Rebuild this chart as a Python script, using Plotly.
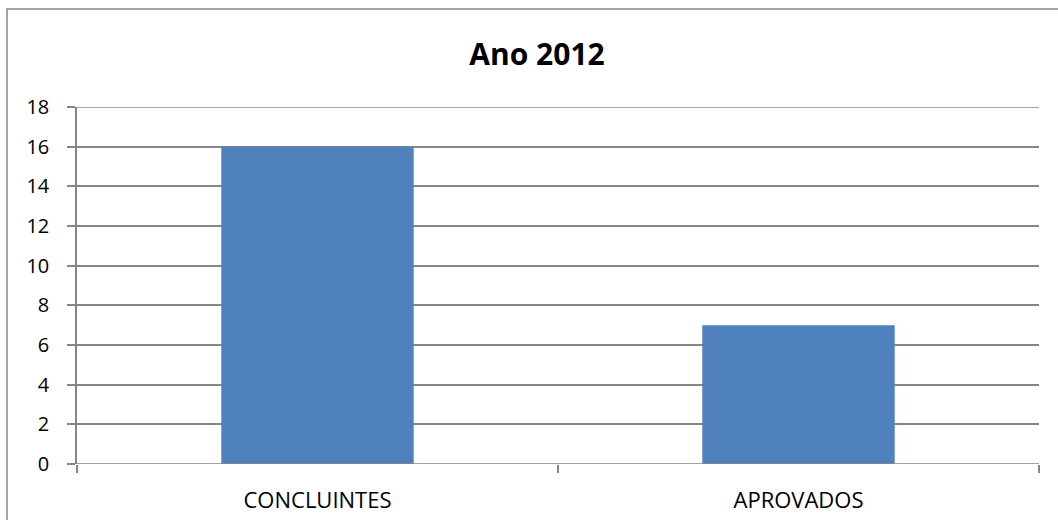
import plotly.graph_objects as go

categories = ["CONCLUINTES", "APROVADOS"]
values = [16, 7]
y_ticks = [0, 2, 4, 6, 8, 10, 12, 14, 16, 18]
title_text = "Ano 2012"

W, H = 1058, 520
L, R, T, B = 77, 1039, 107, 464
pw, ph = R - L, B - T

grid = "#868686"
fig = go.Figure(go.Bar(x=categories, y=values, marker_color="#4F81BD",
                       marker_line_width=0, width=0.4))

fig.update_layout(
    width=W, height=H,
    margin=dict(l=L, r=W - R, t=T, b=H - B, pad=0, autoexpand=False),
    paper_bgcolor="white", plot_bgcolor="white",
    font=dict(family="Open Sans, Liberation Sans, sans-serif", size=20, color="black"),
    title=dict(text="<b>" + title_text + "</b>", x=537 / W, xref="container", xanchor="center",
               y=1 - 54 / H, yref="container", yanchor="middle",
               font=dict(size=30, family="Open Sans, sans-serif", color="black")),
    showlegend=False, bargap=0.6,
    shapes=[dict(type="rect", xref="paper", yref="paper",
                 x0=(7 - L) / pw, x1=(1075 - L) / pw,
                 y0=(B - 535) / ph, y1=(B - 9) / ph,
                 line=dict(color=grid, width=1.5), layer="below"),
            dict(type="line", xref="paper", yref="y", x0=0, x1=1, y0=y_ticks[-1], y1=y_ticks[-1],
                 line=dict(color=grid, width=1.5)),
            dict(type="line", xref="paper", yref="y", x0=0, x1=1, y0=y_ticks[0], y1=y_ticks[0],
                 line=dict(color=grid, width=1.5))],
)
fig.update_yaxes(range=[0, 18], tickvals=y_ticks, showgrid=True, gridcolor=grid, gridwidth=1.5,
                 showline=True, linecolor=grid, linewidth=1.5, ticks="outside", ticklen=8,
                 tickcolor=grid, tickwidth=1.5, ticklabelstandoff=14, zeroline=False, fixedrange=True,
                 tickfont=dict(size=20), automargin=False)
fig.update_xaxes(showgrid=False, showline=False, ticks="outside", tickson="boundaries", ticklen=8,
                 tickcolor=grid, tickwidth=1.5, ticklabelstandoff=21, fixedrange=True,
                 tickfont=dict(size=22), automargin=False)

fig.write_html("out.html", config={"displayModeBar": False},
               post_script="document.body.style.margin='0';document.body.style.overflow='hidden';")
